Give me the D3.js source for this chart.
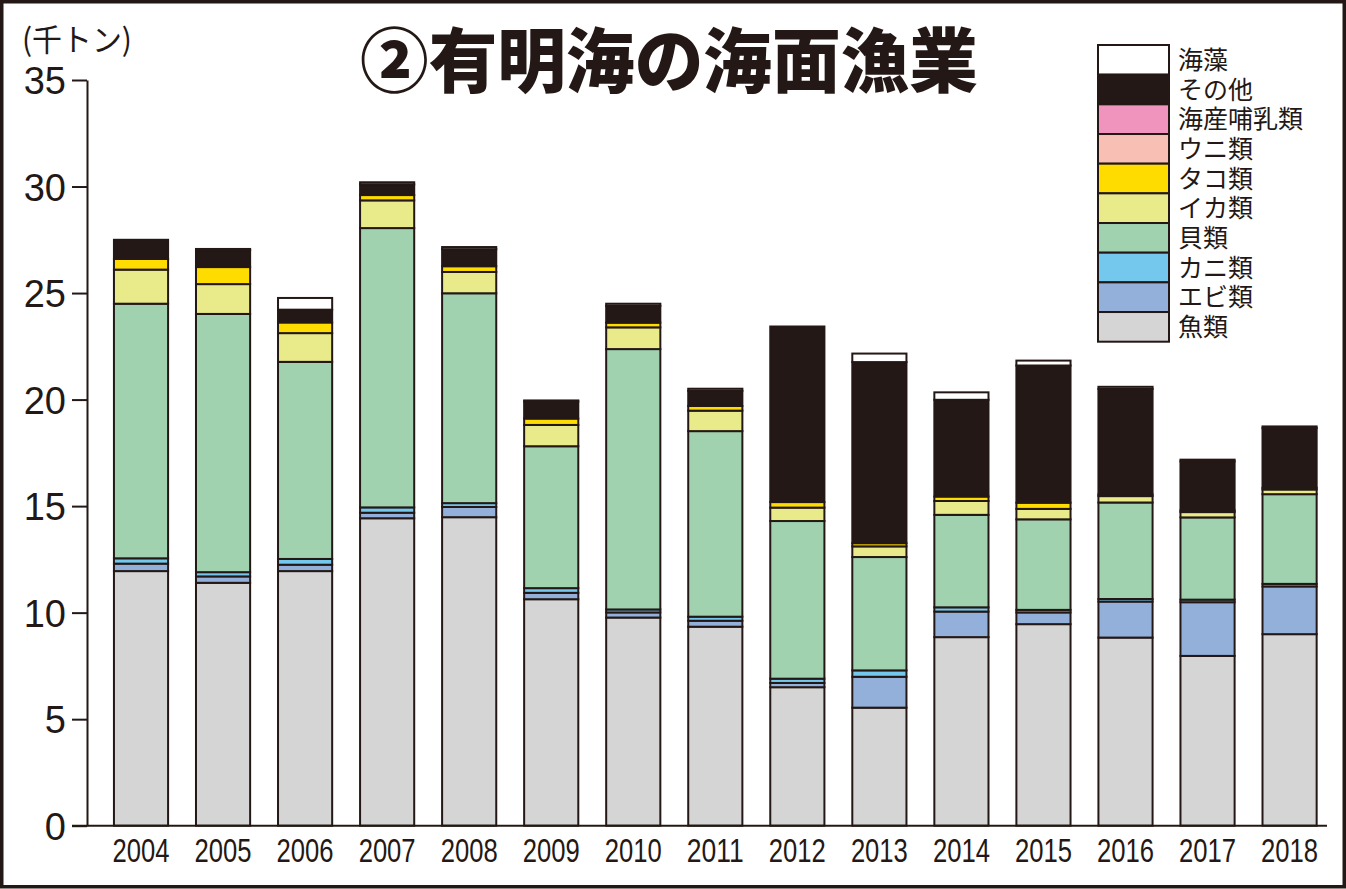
<!DOCTYPE html>
<html>
<head>
<meta charset="utf-8">
<script src="https://cdn.jsdelivr.net/npm/d3@7"></script>
<style>
  body { margin: 0; background: #fff; }
  text { fill: #231815; }
</style>
</head>
<body>
<svg id="chart" width="1346" height="889"></svg>
<script>
// years and series (thousand tonnes), bottom of stack first
let years = ["2004","2005","2006","2007","2008","2009","2010","2011","2012","2013","2014","2015","2016","2017","2018"];
let fish      = [11.95, 11.4, 11.95, 14.43, 14.48, 10.63, 9.77, 9.34, 6.5, 5.54, 8.85, 9.46, 8.83, 7.97, 8.99];
let shrimp    = [0.35, 0.3, 0.3, 0.26, 0.48, 0.3, 0.24, 0.28, 0.2, 1.45, 1.2, 0.55, 1.69, 2.52, 2.24];
let crab      = [0.25, 0.2, 0.27, 0.25, 0.18, 0.22, 0.14, 0.19, 0.2, 0.3, 0.2, 0.12, 0.12, 0.12, 0.12];
let shellfish = [11.95, 12.12, 9.25, 13.11, 9.85, 6.66, 12.22, 8.71, 7.4, 5.32, 4.34, 4.25, 4.53, 3.86, 4.21];
let squid     = [1.6, 1.4, 1.35, 1.3, 1.0, 1.0, 1.02, 0.96, 0.63, 0.5, 0.65, 0.49, 0.3, 0.25, 0.22];
let octopus   = [0.5, 0.8, 0.5, 0.25, 0.27, 0.3, 0.22, 0.22, 0.26, 0.15, 0.21, 0.29, 0.08, 0.08, 0.08];
let urchin    = [0, 0, 0, 0, 0, 0, 0, 0, 0, 0, 0, 0, 0, 0, 0];
let mammal    = [0, 0, 0, 0, 0, 0, 0, 0, 0, 0, 0, 0, 0, 0, 0];
let other     = [0.9, 0.8, 0.6, 0.5, 0.8, 0.8, 0.79, 0.71, 8.24, 8.5, 4.54, 6.44, 4.95, 2.3, 2.8];
let seaweed   = [0, 0.05, 0.55, 0.1, 0.1, 0.05, 0.1, 0.1, 0, 0.4, 0.35, 0.23, 0.1, 0.08, 0.08];

let seriesNames = ["魚類","エビ類","カニ類","貝類","イカ類","タコ類","ウニ類","海産哺乳類","その他","海藻"];
let seriesData  = [fish, shrimp, crab, shellfish, squid, octopus, urchin, mammal, other, seaweed];
let colors = ["#d5d5d5","#92b0da","#74c8ee","#a0d2b0","#e9ea8a","#ffdc00","#f8c0b4","#f093bd","#231815","#ffffff"];
let yTicks = [0, 5, 10, 15, 20, 25, 30, 35];

let ink = "#231815";
let jp = "'Noto Sans CJK JP', 'Noto Sans', sans-serif";
let num = "'Liberation Sans', Arial, sans-serif";

let svg = d3.select("svg#chart");

// outer frame
svg.append("rect")
  .attr("x", 1.75).attr("y", 1.75)
  .attr("width", 1342.5).attr("height", 885)
  .attr("fill", "#fff").attr("stroke", ink).attr("stroke-width", 3.5);

// build stacked rows
let rows = years.map((y, i) => {
  let r = {year: y};
  seriesNames.forEach((n, k) => r[n] = seriesData[k][i]);
  return r;
});
let stacked = d3.stack().keys(seriesNames)(rows);

let x = d3.scaleBand()
  .domain(years)
  .range([100, 1330.6])
  .paddingInner(0.34)
  .paddingOuter(0.17);
let y = d3.scaleLinear()
  .domain([0, 35])
  .range([825.7, 80]);

// bars
svg.append("g")
  .selectAll("g")
  .data(stacked)
  .join("g")
  .attr("fill", (d, i) => colors[i])
  .selectAll("rect")
  .data(d => d.filter(s => s[1] - s[0] > 0))
  .join("rect")
  .attr("x", d => x(d.data.year))
  .attr("width", x.bandwidth())
  .attr("y", d => y(d[1]))
  .attr("height", d => y(d[0]) - y(d[1]))
  .attr("stroke", ink)
  .attr("stroke-width", 2);

// y axis
let yAxis = svg.append("g")
  .attr("transform", "translate(87,0)")
  .call(d3.axisLeft(y).tickValues(yTicks).tickSize(15).tickSizeOuter(0).tickPadding(6));
yAxis.select(".domain").attr("stroke", ink).attr("stroke-width", 2);
yAxis.selectAll(".tick line").attr("stroke", ink).attr("stroke-width", 2);
yAxis.selectAll(".tick text")
  .attr("font-family", num)
  .attr("font-size", 38)
  .attr("fill", ink)
  .attr("dy", "0.36em");

// baseline
svg.append("line")
  .attr("x1", 72).attr("x2", 1327)
  .attr("y1", y(0)).attr("y2", y(0))
  .attr("stroke", ink).attr("stroke-width", 2);

// year labels
svg.append("g")
  .selectAll("text")
  .data(years)
  .join("text")
  .attr("x", d => x(d) + x.bandwidth() / 2)
  .attr("y", 862)
  .attr("text-anchor", "middle")
  .attr("font-family", num)
  .attr("font-size", 33)
  .attr("textLength", 57)
  .attr("lengthAdjust", "spacingAndGlyphs")
  .text(d => d);

// unit label
svg.append("text")
  .attr("x", 22).attr("y", 51)
  .attr("font-family", jp)
  .attr("font-size", 31)
  .attr("textLength", 110)
  .attr("lengthAdjust", "spacingAndGlyphs")
  .text("(千トン)");

// title
svg.append("text")
  .attr("x", 669).attr("y", 87)
  .attr("text-anchor", "middle")
  .attr("font-family", jp)
  .attr("font-weight", 900)
  .attr("font-size", 70)
  .attr("textLength", 618)
  .attr("lengthAdjust", "spacingAndGlyphs")
  .text("②有明海の海面漁業");

// legend, top item first
let legendItems = seriesNames.map((n, k) => ({name: n, color: colors[k]})).reverse();
let swH = 29.67;
let legend = svg.append("g").attr("transform", "translate(1098,45)");
legend.selectAll("rect")
  .data(legendItems)
  .join("rect")
  .attr("x", 0)
  .attr("y", (d, i) => i * swH)
  .attr("width", 71)
  .attr("height", swH)
  .attr("fill", d => d.color)
  .attr("stroke", ink)
  .attr("stroke-width", 2);
legend.selectAll("text")
  .data(legendItems)
  .join("text")
  .attr("x", 80)
  .attr("y", (d, i) => i * swH + swH / 2)
  .attr("dy", "0.36em")
  .attr("font-family", jp)
  .attr("font-size", 25)
  .text(d => d.name);
</script>
</body>
</html>
